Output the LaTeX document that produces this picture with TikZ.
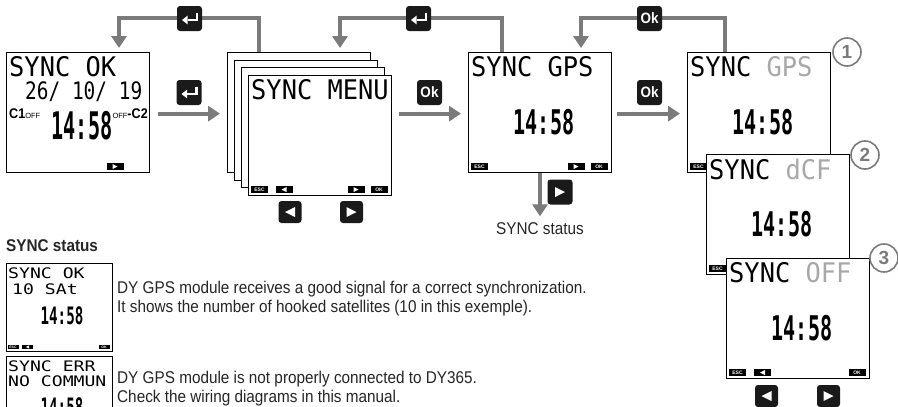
\documentclass[tikz,border=0pt]{standalone}
\usepackage{fontspec}
\setmainfont{Liberation Sans}
\newfontfamily\cond[FakeStretch=0.9]{Liberation Sans}
\newfontfamily\lcdA[FakeStretch=0.94]{DejaVu Sans Mono}
\newfontfamily\lcdB[FakeStretch=0.81]{DejaVu Sans Mono}
\newfontfamily\lcdS[FakeStretch=1.25]{DejaVu Sans Mono}
\newfontfamily\lcdT[FakeStretch=0.59]{DejaVu Sans Mono}
\newfontfamily\lcdU[FakeStretch=0.53]{DejaVu Sans Mono}
\usetikzlibrary{arrows.meta,calc}
\definecolor{arrc}{HTML}{7B7B7B}
\definecolor{lgray}{HTML}{A8A8A8}
\definecolor{keyc}{HTML}{1A1A1A}
\definecolor{txtc}{HTML}{262626}
\newcommand\mytriR[2]{\fill[white] ($(#1.center)+(-#2,-#2)$) -- ($(#1.center)+(#2,0)$) -- ($(#1.center)+(-#2,#2)$) -- cycle;}
\newcommand\mytriL[2]{\fill[white] ($(#1.center)+(#2,-#2)$) -- ($(#1.center)+(-#2,0)$) -- ($(#1.center)+(#2,#2)$) -- cycle;}
\newcommand\myenter[1]{%
  \draw[white, line width=2.4pt] ($(#1.center)+(7.5,-6)$) -- ($(#1.center)+(7.5,1.5)$) -- ($(#1.center)+(-2,1.5)$);
  \fill[white] ($(#1.center)+(-7.5,1.5)$) -- ($(#1.center)+(-2,-2.8)$) -- ($(#1.center)+(-2,5.8)$) -- cycle;}
\tikzset{
 screen/.style={draw=black, line width=1.3pt, fill=white, minimum width=143pt, minimum height=120pt, inner sep=0pt, anchor=north west},
 sscreen/.style={screen, minimum width=106pt, minimum height=88pt},
 flow/.style={draw=arrc, line width=4pt, -{Triangle[width=15pt,length=12pt]}},
 key/.style={fill=keyc, rounded corners=3pt, minimum width=25pt, minimum height=25pt, inner sep=0pt, text=white, font=\cond\bfseries\fontsize{15}{15}\selectfont},
 bkey/.style={key, minimum width=23pt, minimum height=22pt},
 soft/.style={fill=black, minimum width=17pt, minimum height=7pt, inner sep=0pt, text=white, font=\bfseries\fontsize{5}{5}\selectfont},
 ssoft/.style={soft, minimum width=11pt, minimum height=4.5pt, font=\bfseries\fontsize{3.5}{3.5}\selectfont},
 circnum/.style={circle, draw=arrc, line width=1.6pt, fill=white, minimum size=28pt, inner sep=0pt, text=arrc, font=\bfseries\fontsize{19}{19}\selectfont},
 lcd/.style={anchor=west, inner sep=0pt, font=\lcdA\fontsize{27}{27}\selectfont},
 lcdd/.style={anchor=west, inner sep=0pt, font=\lcdB\fontsize{24}{24}\selectfont},
 lcds/.style={anchor=west, inner sep=0pt, font=\lcdS\fontsize{14.5}{14.5}\selectfont},
 time/.style={inner sep=0pt, font=\lcdT\bfseries\fontsize{34}{34}\selectfont},
 stime/.style={inner sep=0pt, font=\lcdT\bfseries\fontsize{24}{24}\selectfont},
 body/.style={anchor=base west, inner sep=0pt, text=txtc, font=\cond\fontsize{17}{20}\selectfont},
}
\begin{document}
\begin{tikzpicture}[x=1pt,y=-1pt]
\useasboundingbox (0,0) rectangle (898,407);
\clip (0,0) rectangle (898,407);
\fill[white] (0,0) rectangle (898,407);

% ---------- screen 1 : SYNC OK ----------
\node[screen] (s1) at (6,52) {};
\node[lcd] (s1a) at (9,67) {SYNC OK};
\node[lcdd] (s1b) at (25,92) {26/ 10/ 19};
\node[anchor=west, inner sep=0pt] (s1c) at (9,114) {{\cond\bfseries\fontsize{14}{14}\selectfont C1}{\fontsize{7.5}{7.5}\selectfont OFF}};
\node[anchor=east, inner sep=0pt] (s1d) at (148,114) {{\fontsize{7.5}{7.5}\selectfont OFF}{\cond\bfseries\fontsize{14}{14}\selectfont -C2}};
\node[inner sep=0pt, font=\lcdU\bfseries\fontsize{38}{38}\selectfont] (s1t) at (82,126) {14:58};
\node[soft] (s1k4) at (115,166.5) {}; \mytriR{s1k4}{2.5}

% ---------- menu stack ----------
\node[screen] (c1) at (227,52) {};
\node[screen] (c2) at (234,60) {};
\node[screen] (c3) at (241,67) {};
\node[screen] (f) at (248,75) {};
\node[lcd] (fa) at (251,90) {SYNC MENU};
\node[soft] (fk1) at (259.5,189.5) {ESC};
\node[soft] (fk2) at (284,189.5) {}; \mytriL{fk2}{2.5}
\node[soft] (fk3) at (356,189.5) {}; \mytriR{fk3}{2.5}
\node[soft] (fk4) at (379,189.5) {OK};

% ---------- GPS screen ----------
\node[screen] (g) at (468,52) {};
\node[lcd] (ga) at (471,67) {SYNC GPS};
\node[time] (gt) at (544,122) {14:58};
\node[soft] (gk1) at (479.5,166.5) {ESC};
\node[soft] (gk3) at (576,166.5) {}; \mytriR{gk3}{2.5}
\node[soft] (gk4) at (599,166.5) {OK};

% ---------- options 1,2,3 ----------
\node[screen] (n1) at (687,52) {};
\node[lcd] (n1a) at (690,67) {SYNC \textcolor{lgray}{GPS}};
\node[time] (n1t) at (763,122) {14:58};
\node[soft] (n1k1) at (698.5,166.5) {ESC};
\node[circnum] (o1) at (847,52) {1};

\node[screen] (n2) at (706,154) {};
\node[lcd] (n2a) at (709,169) {SYNC \textcolor{lgray}{dCF}};
\node[time] (n2t) at (782,224) {14:58};
\node[soft] (n2k1) at (717.5,268.5) {ESC};
\node[circnum] (o2) at (865,155) {2};

\node[screen] (n3) at (726,258) {};
\node[lcd] (n3a) at (729,273) {SYNC \textcolor{lgray}{OFF}};
\node[time] (n3t) at (802,328) {14:58};
\node[soft] (n3k1) at (737.5,372.5) {ESC};
\node[soft] (n3k2) at (762.5,372.5) {}; \mytriL{n3k2}{2.5}
\node[soft] (n3k4) at (857,372.5) {OK};
\node[circnum] (o3) at (884,258) {3};

% ---------- connectors ----------
\draw[flow] ($(s1.east)+(8,1)$) -- ($(c1.west)+(-7,1)$);
\draw[flow] ($(f.east)+(7,-22)$) -- ($(g.west)+(-7,1)$);
\draw[flow] ($(g.east)+(5,1)$) -- ($(n1.west)+(-7,1)$);
\draw[flow] ($(c1.north west)+(32,0)$) -- ++(0,-34) -| ($(s1.north west)+(113,-4)$);
\draw[flow] ($(g.north west)+(34,0)$) -- ++(0,-34) -| ($(c1.north west)+(113,-4)$);
\draw[flow] ($(n1.north west)+(38,0)$) -- ++(0,-34) -| ($(g.north west)+(113,-4)$);
\draw[flow] ($(g.south west)+(72,0)$) -- ($(g.south west)+(72,43)$) coordinate (stend);

% ---------- keys ----------
\node[key] (k1) at (189.5,18.5) {}; \myenter{k1}
\node[key] (k2) at (418.5,18.5) {}; \myenter{k2}
\node[key] (k3) at (649.5,18.5) {Ok};
\node[key] (k4) at (189,92.5) {}; \myenter{k4}
\node[key] (k5) at (429.5,92.5) {Ok};
\node[key] (k6) at (649.5,92.5) {Ok};
\node[key] (k7) at (560,192) {}; \mytriR{k7}{5}
\node[anchor=north, inner sep=0pt, text=txtc, font=\cond\fontsize{17}{17}\selectfont] (stl) at ($(stend)+(0,6)$) {SYNC status};

\node[bkey] (b1) at (290,212) {}; \mytriL{b1}{5}
\node[bkey] (b2) at (351.5,212) {}; \mytriR{b2}{5}
\node[bkey] (b3) at (766.5,396) {}; \mytriL{b3}{5}
\node[bkey] (b4) at (828.5,396) {}; \mytriR{b4}{5}

% ---------- SYNC status section ----------
\node[anchor=base west, inner sep=0pt, text=txtc, font=\cond\bfseries\fontsize{17}{17}\selectfont] (hd) at (6,251) {SYNC status};

\node[sscreen] (sa) at (6,263) {};
\node[lcds] (saa) at (8,273) {SYNC OK};
\node[lcds] (sab) at (12,289) {10 SAt};
\node[stime] (sat) at (62,316) {14:58};
\node[ssoft] (sak1) at (13,347) {ESC};
\node[ssoft] (sak2) at (27.5,347) {}; \mytriL{sak2}{1.6}
\node[ssoft] (sak4) at (104,347) {OK};

\node[sscreen] (sb) at (6,356) {};
\node[lcds] (sba) at (8,366) {SYNC ERR};
\node[lcds] (sbb) at (8,381) {NO COMMUN};
\node[stime] (sbt) at (62,407) {14:58};

\node[body] (t1) at (117,293) {DY GPS module receives a good signal for a correct synchronization.};
\node[body] (t2) at (117,312) {It shows the number of hooked satellites (10 in this exemple).};
\node[body] (t3) at (117,383) {DY GPS module is not properly connected to DY365.};
\node[body] (t4) at (117,402) {Check the wiring diagrams in this manual.};
\end{tikzpicture}
\end{document}
